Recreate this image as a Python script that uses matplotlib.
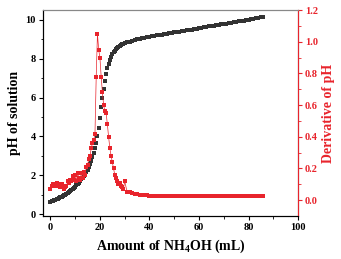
import numpy as np
import matplotlib.pyplot as plt

plt.rcParams['font.family'] = 'Liberation Serif'
plt.rcParams['font.weight'] = 'bold'
plt.rcParams['mathtext.fontset'] = 'custom'
plt.rcParams['mathtext.rm'] = 'Liberation Serif:bold'
plt.rcParams['mathtext.bf'] = 'Liberation Serif:bold'

# volume of NH4OH added (mL): 0.5 mL steps up to 30, then 1 mL steps
volume = np.concatenate([np.arange(0, 30, 0.5), np.arange(30, 87, 1.0)])

ph = [0.63, 0.65, 0.68, 0.71, 0.74, 0.77, 0.80, 0.83, 0.86, 0.89,
      0.93, 0.97, 1.00, 1.04, 1.08, 1.13, 1.18, 1.23, 1.29, 1.35,
      1.41, 1.48, 1.55, 1.62, 1.70, 1.78, 1.87, 1.96, 2.06, 2.17,
      2.29, 2.42, 2.57, 2.73, 2.92, 3.13, 3.38, 3.67, 4.02, 4.45,
      4.95, 5.50, 6.00, 6.45, 6.85, 7.20, 7.50, 7.75, 7.95, 8.10,
      8.22, 8.32, 8.41, 8.48, 8.54, 8.60, 8.65, 8.69, 8.73, 8.76,
      8.79, 8.84, 8.88, 8.92, 8.96, 8.99, 9.02, 9.05, 9.08, 9.10,
      9.13, 9.15, 9.17, 9.20, 9.22, 9.24, 9.26, 9.28, 9.30, 9.33,
      9.35, 9.37, 9.39, 9.41, 9.44, 9.46, 9.48, 9.50, 9.52, 9.55,
      9.57, 9.59, 9.61, 9.63, 9.66, 9.68, 9.70, 9.72, 9.74, 9.77,
      9.79, 9.81, 9.83, 9.85, 9.88, 9.90, 9.92, 9.94, 9.96, 9.99,
      10.01, 10.03, 10.05, 10.07, 10.10, 10.12, 10.14]

deriv = [0.07, 0.09, 0.10, 0.09, 0.10, 0.11, 0.09, 0.10, 0.08, 0.10,
         0.08, 0.07, 0.08, 0.09, 0.12, 0.11, 0.13, 0.12, 0.15, 0.13,
         0.16, 0.12, 0.17, 0.14, 0.13, 0.17, 0.14, 0.18, 0.16, 0.21,
         0.22, 0.26, 0.28, 0.33, 0.36, 0.38, 0.42, 0.78, 1.05, 0.95,
         0.90, 0.78, 0.68, 0.60, 0.56, 0.55, 0.48, 0.40, 0.33, 0.28,
         0.24, 0.20, 0.16, 0.14, 0.12, 0.10, 0.11, 0.09, 0.08, 0.07,
         0.12, 0.05, 0.05, 0.045, 0.04, 0.04, 0.035, 0.035, 0.03, 0.03,
         0.028, 0.026, 0.025, 0.025, 0.025, 0.025, 0.025, 0.025, 0.025, 0.025,
         0.025, 0.025, 0.025, 0.025, 0.025, 0.025, 0.025, 0.025, 0.025, 0.025,
         0.025, 0.025, 0.025, 0.025, 0.025, 0.025, 0.025, 0.025, 0.025, 0.025,
         0.025, 0.025, 0.025, 0.025, 0.025, 0.025, 0.025, 0.025, 0.025, 0.025,
         0.025, 0.025, 0.025, 0.025, 0.025, 0.025, 0.025]

red = '#e8242c'

fig = plt.figure(figsize=(3.41, 2.59), dpi=100)
ax1 = fig.add_axes([0.126, 0.166, 0.748, 0.795])
ax2 = ax1.twinx()

ax1.plot(volume, ph, 's', color='#333333', markersize=2.9, markeredgewidth=0, zorder=3)
ax2.plot(volume, deriv, '-s', color=red, markersize=2.9, markeredgewidth=0, linewidth=0.5)

ax1.set_xlim(-3, 100)
ax1.set_ylim(-0.1, 10.5)
ax2.set_ylim(-0.1, 1.2)

ax1.set_xticks([0, 20, 40, 60, 80, 100])
ax1.set_xticks([10, 30, 50, 70, 90], minor=True)
ax1.set_yticks([0, 2, 4, 6, 8, 10])
ax1.set_yticks([1, 3, 5, 7, 9], minor=True)
ax2.set_yticks([0.0, 0.2, 0.4, 0.6, 0.8, 1.0, 1.2])
ax2.set_yticks([0.1, 0.3, 0.5, 0.7, 0.9, 1.1], minor=True)
ax2.set_yticklabels(['0.0', '0.2', '0.4', '0.6', '0.8', '1.0', '1.2'])

ax1.tick_params(labelsize=7.5, length=3, width=0.8, pad=2)
ax1.tick_params(which='minor', length=1.8, width=0.6)
ax2.tick_params(labelsize=7.5, length=3, width=0.8, pad=2, colors=red)
ax2.tick_params(which='minor', length=1.8, width=0.6, colors=red)

ax1.set_xlabel('Amount of NH$_\\mathbf{4}$OH (mL)', fontsize=10, fontweight='bold', labelpad=4)
ax1.set_ylabel('pH of solution', fontsize=10, fontweight='bold', labelpad=3)
ax2.set_ylabel('Derivative of pH', fontsize=10, fontweight='bold', color=red, labelpad=3)

ax2.spines['right'].set_color(red)
ax2.spines['top'].set_color('#888888')
ax1.spines['top'].set_color('#888888')

fig.savefig('out.png', dpi=100)
